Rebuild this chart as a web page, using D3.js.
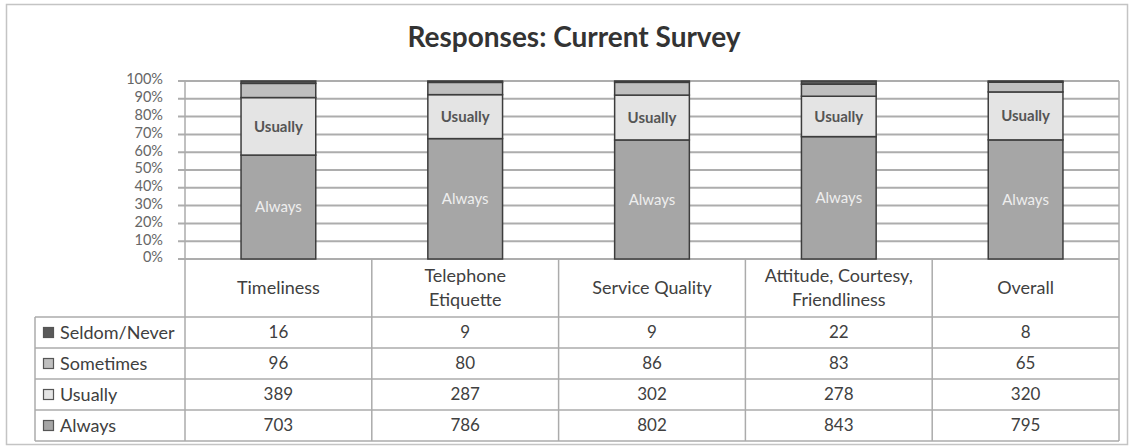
<!DOCTYPE html>
<html>
<head>
<meta charset="utf-8">
<script src="https://cdn.jsdelivr.net/npm/d3@7"></script>
<style>
  body { margin: 0; background: #fff; }
  text { font-family: Lato, 'Open Sans', sans-serif; }
</style>
</head>
<body>
<svg id="chart" width="1130" height="446"></svg>
<script>
// survey counts
var categories = ['Timeliness', 'Telephone Etiquette', 'Service Quality', 'Attitude, Courtesy, Friendliness', 'Overall'];
var categoryLines = [['Timeliness'], ['Telephone', 'Etiquette'], ['Service Quality'], ['Attitude, Courtesy,', 'Friendliness'], ['Overall']];
var seriesNames = ['Seldom/Never', 'Sometimes', 'Usually', 'Always'];
var seldomNever = [16, 9, 9, 22, 8];
var sometimes = [96, 80, 86, 83, 65];
var usually = [389, 287, 302, 278, 320];
var always = [703, 786, 802, 843, 795];
var yTicks = [0, 0.1, 0.2, 0.3, 0.4, 0.5, 0.6, 0.7, 0.8, 0.9, 1];

(function () {
  'use strict';

  var colors = {
    'Always': '#a6a6a6',
    'Usually': '#e4e4e4',
    'Sometimes': '#bfbfbf',
    'Seldom/Never': '#595959'
  };
  var gridColor = '#adadad',
      lineColor = '#ababab',
      textColor = '#404040';

  var left = 185, right = 1119, top = 81, bottom = 259;
  var tableLeft = 35, headerBottom = 317, tableBottom = 441;

  var svg = d3.select('#chart');

  // outer frame
  svg.append('rect')
    .attr('x', 6.5).attr('y', 4.5)
    .attr('width', 1121).attr('height', 440)
    .attr('fill', 'none').attr('stroke', '#c4c4c4').attr('stroke-width', 1.5);

  svg.append('text')
    .attr('x', 574).attr('y', 47)
    .attr('text-anchor', 'middle')
    .attr('font-size', 28).attr('font-weight', 'bold')
    .attr('fill', '#333')
    .text('Responses: Current Survey');

  var x = d3.scaleBand().domain(categories).range([left, right]);
  var y = d3.scaleLinear().domain([0, 1]).range([bottom, top]);

  // stacked from the bottom: Always, Usually, Sometimes, Seldom/Never
  var rows = categories.map(function (c, i) {
    return { cat: c, 'Always': always[i], 'Usually': usually[i], 'Sometimes': sometimes[i], 'Seldom/Never': seldomNever[i] };
  });
  var stack = d3.stack()
    .keys(['Always', 'Usually', 'Sometimes', 'Seldom/Never'])
    .offset(d3.stackOffsetExpand);
  var layers = stack(rows);

  // gridlines
  svg.append('g').selectAll('line')
    .data(yTicks)
    .enter().append('line')
    .attr('x1', left - 7).attr('x2', right)
    .attr('y1', function (d) { return y(d); })
    .attr('y2', function (d) { return y(d); })
    .attr('stroke', gridColor).attr('stroke-width', 2);

  // y axis labels (kept small enough that they don't collide)
  var yAxis = d3.axisLeft(y).tickValues(yTicks).tickFormat(d3.format('.0%')).tickSize(0).tickPadding(22);
  var ag = svg.append('g').attr('transform', 'translate(' + left + ',0)').call(yAxis);
  ag.select('.domain').remove();
  ag.selectAll('text')
    .attr('font-family', 'Lato, sans-serif')
    .attr('font-size', 14.5)
    .attr('fill', '#666')
    .attr('dy', '0.2em');

  // bars
  var barW = x.bandwidth() * 0.4;
  var bars = svg.append('g');
  layers.forEach(function (layer) {
    bars.selectAll('.seg-' + layer.index)
      .data(layer)
      .enter().append('rect')
      .attr('x', function (d) { return x(d.data.cat) + (x.bandwidth() - barW) / 2; })
      .attr('y', function (d) { return y(d[1]); })
      .attr('width', barW)
      .attr('height', function (d) { return y(d[0]) - y(d[1]); })
      .attr('fill', colors[layer.key])
      .attr('stroke', '#3d3d3d').attr('stroke-width', 1.5);

    if (layer.key === 'Always' || layer.key === 'Usually') {
      bars.selectAll('.lab-' + layer.index)
        .data(layer)
        .enter().append('text')
        .attr('x', function (d) { return x(d.data.cat) + x.bandwidth() / 2; })
        .attr('y', function (d) { return (y(d[0]) + y(d[1])) / 2; })
        .attr('dy', '0.35em')
        .attr('text-anchor', 'middle')
        .attr('font-size', 15)
        .attr('font-weight', layer.key === 'Usually' ? 'bold' : 'normal')
        .attr('fill', layer.key === 'Usually' ? '#555' : '#eeeeee')
        .text(layer.key);
    }
  });

  // data table
  var tableRows = [seldomNever, sometimes, usually, always];
  var r = d3.scaleBand().domain(seriesNames).range([headerBottom, tableBottom]);
  var t = svg.append('g');

  var hLines = seriesNames.map(function (s) { return r(s); }).concat([tableBottom]);
  t.selectAll('.h')
    .data(hLines)
    .enter().append('line')
    .attr('x1', tableLeft).attr('x2', right)
    .attr('y1', function (d) { return d; }).attr('y2', function (d) { return d; })
    .attr('stroke', lineColor).attr('stroke-width', 1.5);

  var vLines = [{ x: tableLeft, y1: headerBottom }, { x: left, y1: top }]
    .concat(categories.slice(1).map(function (c) { return { x: x(c), y1: bottom }; }))
    .concat([{ x: right, y1: top }]);
  t.selectAll('.v')
    .data(vLines)
    .enter().append('line')
    .attr('x1', function (d) { return d.x; }).attr('x2', function (d) { return d.x; })
    .attr('y1', function (d) { return d.y1; }).attr('y2', tableBottom)
    .attr('stroke', lineColor).attr('stroke-width', 1.5);

  // column headers
  categories.forEach(function (c, i) {
    var lines = categoryLines[i];
    var cy = (bottom + headerBottom) / 2;
    t.append('text')
      .attr('x', x(c) + x.bandwidth() / 2)
      .attr('y', cy - (lines.length - 1) * 12)
      .attr('text-anchor', 'middle')
      .attr('font-size', 18)
      .attr('fill', textColor)
      .selectAll('tspan')
      .data(lines)
      .enter().append('tspan')
      .attr('x', x(c) + x.bandwidth() / 2)
      .attr('dy', function (d, j) { return j === 0 ? '0.35em' : 24; })
      .text(function (d) { return d; });
  });

  // row labels with legend keys
  seriesNames.forEach(function (s, k) {
    var cy = r(s) + r.bandwidth() / 2;
    t.append('rect')
      .attr('x', 43.5).attr('y', cy - 5)
      .attr('width', 10).attr('height', 10)
      .attr('fill', colors[s]).attr('stroke', '#555').attr('stroke-width', 1.2);
    t.append('text')
      .attr('x', 60).attr('y', cy).attr('dy', '0.35em')
      .attr('font-size', 18)
      .attr('fill', textColor)
      .text(s);

    t.selectAll('.v' + k)
      .data(tableRows[k])
      .enter().append('text')
      .attr('x', function (d, i) { return x(categories[i]) + x.bandwidth() / 2; })
      .attr('y', cy).attr('dy', '0.35em')
      .attr('text-anchor', 'middle')
      .attr('font-size', 17)
      .attr('fill', textColor)
      .text(function (d) { return d; });
  });
})();
</script>
</body>
</html>
